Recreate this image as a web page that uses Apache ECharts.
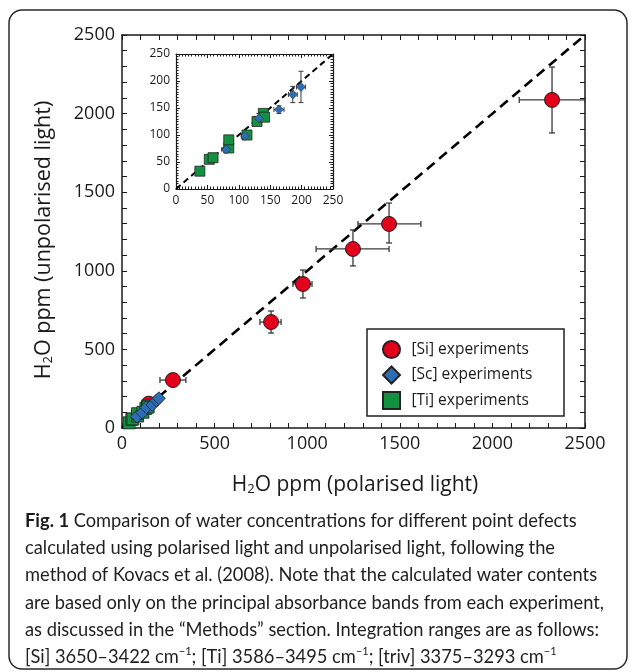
<!DOCTYPE html>
<html>
<head>
<meta charset="utf-8">
<script src="https://cdn.jsdelivr.net/npm/echarts@6/dist/echarts.min.js"></script>
<style>
html,body{margin:0;padding:0;background:#fff;}
#chart{width:630px;height:672px;}
</style>
</head>
<body>
<div id="chart"></div>
<script>
// ---- data ----
const mainTicks = [0, 500, 1000, 1500, 2000, 2500];
const insetTicks = [0, 50, 100, 150, 200, 250];

// [Si] experiments (main chart only)
const siX   = [2322, 1442, 1247, 977, 805, 275, 145];
const siY   = [2087, 1298, 1139, 916, 674, 305, 155];
const siXLo = [2145, 1274, 1048, 923, 745, 205, 130];
const siXHi = [2500, 1614, 1442, 1026, 859, 345, 160];
const siYLo = [1877, 1177, 1031, 827, 604, 285, 140];
const siYHi = [2296, 1431, 1260, 1005, 744, 325, 170];

// [Sc] experiments
const scX   = [80, 110, 132, 164, 186, 199];
const scY   = [73, 98, 131, 147, 175, 189];
const scXLo = [73, 104, 126, 156, 179, 192];
const scXHi = [87, 116, 138, 172, 193, 206];
const scYLo = [67, 93, 122, 140, 160, 160];
const scYHi = [79, 103, 140, 154, 190, 218];

// [Ti] experiments
const tiX = [38, 53, 59, 84, 84, 113, 129, 139, 141];
const tiY = [33, 55, 58, 76, 91, 100, 125, 140, 133];

// one-to-one reference line
const oneToOneMain = [[0, 0], [2500, 2500]];
const oneToOneInset = [[0, 0], [250, 250]];

const legendNames = ['[Si] experiments', '[Sc] experiments', '[Ti] experiments'];

const RED = '#e2001a', BLUE = '#2d6db5', GREEN = '#129140';
const FONT = 'Open Sans';
const CAP_FONT = 'Lato';
const CAP_SIZE = 18.3;

function errData(x, y, xl, xh, yl, yh) {
  return x.map((v, i) => [v, y[i], xl[i], xh[i], yl[i], yh[i]]);
}
function errRender(cap, lw) {
  return function (params, api) {
    const x = api.value(0), y = api.value(1);
    const pL = api.coord([api.value(2), y]), pH = api.coord([api.value(3), y]);
    const pB = api.coord([x, api.value(4)]), pT = api.coord([x, api.value(5)]);
    const st = { stroke: '#3a3a3a', lineWidth: lw, fill: null };
    const ln = (x1, y1, x2, y2) => ({ type: 'line', shape: { x1, y1, x2, y2 }, style: st });
    return {
      type: 'group', children: [
        ln(pL[0], pL[1], pH[0], pH[1]),
        ln(pL[0], pL[1] - cap, pL[0], pL[1] + cap),
        ln(pH[0], pH[1] - cap, pH[0], pH[1] + cap),
        ln(pB[0], pB[1], pT[0], pT[1]),
        ln(pB[0] - cap, pB[1], pB[0] + cap, pB[1]),
        ln(pT[0] - cap, pT[1], pT[0] + cap, pT[1])
      ]
    };
  };
}

function axisCommon(min, max, interval, showLabel, fs, tickLen, minorLen, minorSplit, lw) {
  return {
    type: 'value', min, max, interval,
    axisLine: { show: true, onZero: false, lineStyle: { color: '#1a1a1a', width: lw } },
    axisTick: { show: true, inside: true, length: tickLen, lineStyle: { color: '#1a1a1a', width: 1 } },
    minorTick: { show: true, splitNumber: minorSplit, length: minorLen, lineStyle: { color: '#1a1a1a', width: 1 } },
    splitLine: { show: false },
    minorSplitLine: { show: false },
    axisLabel: { show: showLabel, fontFamily: FONT, fontSize: fs, color: '#1a1a1a', margin: fs > 14 ? 7 : 6,
      formatter: v => String(v) }
  };
}

const chart = echarts.init(document.getElementById('chart'), null, { renderer: 'canvas' });

const diamond = 'path://M0,-1L1,0L0,1L-1,0Z';
const square = 'path://M0,0H1V1H0Z';

function capLine(y, text, rich) {
  const st = { text, fontFamily: CAP_FONT, fontSize: CAP_SIZE, fill: '#1f1f1f', verticalAlign: 'middle', align: 'left' };
  if (rich) st.rich = rich;
  return { type: 'text', x: 25, y, z: 20, style: st };
}

const option = {
  animation: false,
  backgroundColor: '#fff',
  grid: [
    { left: 122, top: 35, width: 463, height: 393, show: false },
    { left: 176, top: 54, width: 157, height: 135, show: true, backgroundColor: '#fff', borderWidth: 0, z: 10 }
  ],
  xAxis: [
    Object.assign(axisCommon(mainTicks[0], mainTicks[mainTicks.length - 1], 500, true, 18, 5, 5, 5, 1.5), { gridIndex: 0, position: 'bottom' }),
    Object.assign(axisCommon(mainTicks[0], mainTicks[mainTicks.length - 1], 500, false, 18, 5, 5, 5, 1.5), { gridIndex: 0, position: 'top' }),
    Object.assign(axisCommon(insetTicks[0], insetTicks[insetTicks.length - 1], 50, true, 12, 4, 2.5, 10, 1.2), { gridIndex: 1, position: 'bottom', z: 10 }),
    Object.assign(axisCommon(insetTicks[0], insetTicks[insetTicks.length - 1], 50, false, 12, 4, 2.5, 10, 1.2), { gridIndex: 1, position: 'top', z: 10 })
  ],
  yAxis: [
    Object.assign(axisCommon(mainTicks[0], mainTicks[mainTicks.length - 1], 500, true, 18, 5, 5, 5, 1.5), { gridIndex: 0, position: 'left' }),
    Object.assign(axisCommon(mainTicks[0], mainTicks[mainTicks.length - 1], 500, false, 18, 5, 5, 5, 1.5), { gridIndex: 0, position: 'right' }),
    Object.assign(axisCommon(insetTicks[0], insetTicks[insetTicks.length - 1], 50, true, 12, 4, 2.5, 10, 1.2), { gridIndex: 1, position: 'left', z: 10 }),
    Object.assign(axisCommon(insetTicks[0], insetTicks[insetTicks.length - 1], 50, false, 12, 4, 2.5, 10, 1.2), { gridIndex: 1, position: 'right', z: 10 })
  ],
  legend: {
    orient: 'vertical',
    left: 382, top: 340,
    padding: 0,
    itemWidth: 24, itemHeight: 17, itemGap: 6.5,
    textStyle: { fontFamily: FONT, fontSize: 15.5, color: '#1a1a1a', padding: [0, 0, 0, 3] },
    data: [
      { name: legendNames[0], icon: 'circle' },
      { name: legendNames[1], icon: diamond },
      { name: legendNames[2], icon: square }
    ]
  },
  series: [
    // main chart
    { type: 'line', xAxisIndex: 0, yAxisIndex: 0, data: oneToOneMain, symbol: 'none', silent: true,
      lineStyle: { color: '#000', width: 2.6, type: [10, 6] }, z: 1 },
    { type: 'custom', xAxisIndex: 0, yAxisIndex: 0, data: errData(siX, siY, siXLo, siXHi, siYLo, siYHi),
      renderItem: errRender(3, 1.3), encode: { x: 0, y: 1 }, z: 2 },
    { type: 'custom', xAxisIndex: 0, yAxisIndex: 0, data: errData(scX, scY, scXLo, scXHi, scYLo, scYHi),
      renderItem: errRender(2, 1), encode: { x: 0, y: 1 }, z: 2 },
    { name: legendNames[0], type: 'scatter', xAxisIndex: 0, yAxisIndex: 0, symbol: 'circle', symbolSize: 15,
      data: siX.map((v, i) => [v, siY[i]]), itemStyle: { color: RED, borderColor: '#222', borderWidth: 1, opacity: 1 }, z: 3 },
    { name: legendNames[2], type: 'scatter', xAxisIndex: 0, yAxisIndex: 0, symbol: 'rect', symbolSize: 12,
      data: tiX.map((v, i) => [v, tiY[i]]), itemStyle: { color: GREEN, borderColor: '#222', borderWidth: 0.8, opacity: 1 }, z: 4 },
    { name: legendNames[1], type: 'scatter', xAxisIndex: 0, yAxisIndex: 0, symbol: diamond, symbolSize: 13,
      data: scX.map((v, i) => [v, scY[i]]), itemStyle: { color: BLUE, borderColor: '#222', borderWidth: 0.8, opacity: 1 }, z: 5 },

    // inset
    { type: 'line', xAxisIndex: 2, yAxisIndex: 2, data: oneToOneInset, symbol: 'none', silent: true,
      lineStyle: { color: '#000', width: 2, type: [6, 4] }, z: 11 },
    { type: 'custom', xAxisIndex: 2, yAxisIndex: 2, data: errData(scX, scY, scXLo, scXHi, scYLo, scYHi),
      renderItem: errRender(2.5, 1), encode: { x: 0, y: 1 }, z: 12 },
    { name: legendNames[2], type: 'scatter', xAxisIndex: 2, yAxisIndex: 2, symbol: 'rect', symbolSize: 10,
      data: tiX.map((v, i) => [v, tiY[i]]), itemStyle: { color: GREEN, borderColor: '#222', borderWidth: 0.8, opacity: 1 }, z: 13 },
    { name: legendNames[1], type: 'scatter', xAxisIndex: 2, yAxisIndex: 2, symbol: diamond, symbolSize: 9,
      data: scX.map((v, i) => [v, scY[i]]), itemStyle: { color: BLUE, borderColor: '#333', borderWidth: 0.6, opacity: 1 }, z: 14 }
  ],
  graphic: [
    { type: 'rect', shape: { x: 9, y: 10, width: 618, height: 659, r: 13 },
      style: { fill: null, stroke: '#2a2a2a', lineWidth: 1.5 }, z: 0, silent: true },
    { type: 'rect', shape: { x: 367, y: 329, width: 197, height: 87 },
      style: { fill: '#fff', stroke: '#222', lineWidth: 1.5 }, z: 0, silent: true },
    { type: 'text', x: 355, y: 485, z: 20,
      style: { text: 'H{s|2}O ppm (polarised light)', fontFamily: FONT, fontSize: 21, fill: '#1a1a1a',
        align: 'center', verticalAlign: 'middle',
        rich: { s: { fontSize: 13, fontFamily: FONT, fill: '#1a1a1a', verticalAlign: 'bottom', lineHeight: 22 } } } },
    { type: 'text', x: 44, y: 240, rotation: Math.PI / 2, z: 20,
      style: { text: 'H{s|2}O ppm (unpolarised light)', fontFamily: FONT, fontSize: 21.5, fill: '#1a1a1a',
        align: 'center', verticalAlign: 'middle',
        rich: { s: { fontSize: 13, fontFamily: FONT, fill: '#1a1a1a', verticalAlign: 'bottom', lineHeight: 22 } } } },
    capLine(521, '{b|Fig. 1} Comparison of water concentrations for different point defects',
      { b: { fontFamily: CAP_FONT, fontWeight: 'bold', fontSize: CAP_SIZE, fill: '#1a1a1a' } }),
    capLine(548, 'calculated using polarised light and unpolarised light, following the'),
    capLine(575.5, 'method of Kovacs et al. (2008). Note that the calculated water contents'),
    capLine(603, 'are based only on the principal absorbance bands from each experiment,'),
    capLine(630, 'as discussed in the \u201cMethods\u201d section. Integration ranges are as follows:'),
    capLine(657, '[Si] 3650\u20133422 cm{u|\u22121}; [Ti] 3586\u20133495 cm{u|\u22121}; [triv] 3375\u20133293 cm{u|\u22121}',
      { u: { fontFamily: CAP_FONT, fontSize: 11, fill: '#1a1a1a', verticalAlign: 'top', lineHeight: 22 } })
  ]
};
chart.setOption(option);
</script>
</body>
</html>
